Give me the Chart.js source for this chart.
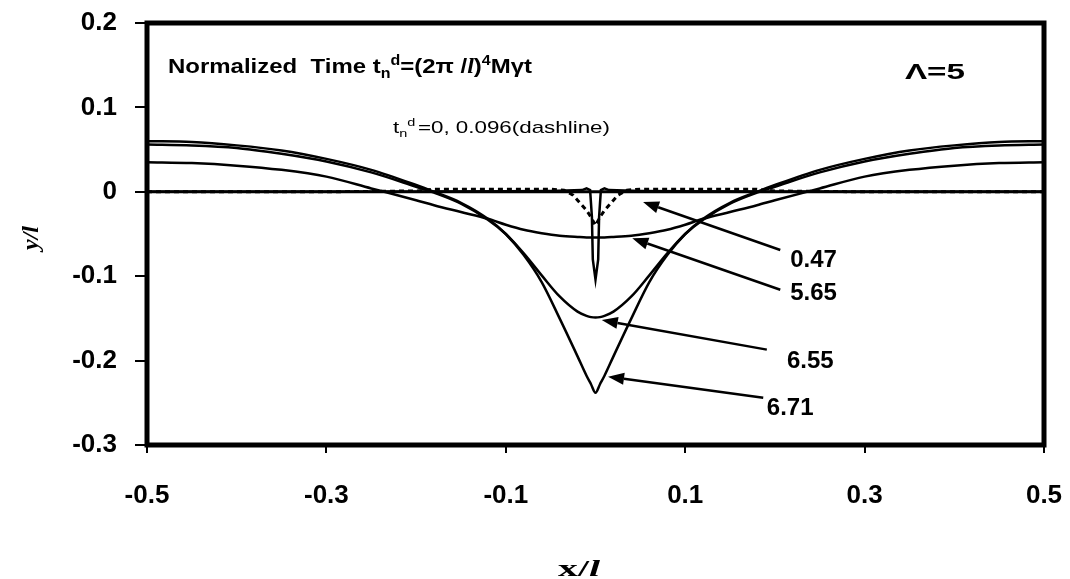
<!DOCTYPE html>
<html>
<head>
<meta charset="utf-8">
<script src="https://cdn.jsdelivr.net/npm/chart.js@4.4.0/dist/chart.umd.min.js"></script>
<style>
    html, body { margin: 0; padding: 0; background: #fff; }
</style>
</head>
<body>
<canvas id="profileChart" width="1070" height="579"></canvas>
<script>
// profile data (x/l, y/l)
const xBroad = [-0.5, -0.45, -0.4, -0.35, -0.3, -0.25, -0.2, -0.18, -0.15, -0.12, -0.1, -0.08, -0.06, -0.04, -0.02, -0.01,
    -0.005, 0, 0.005,
    0.01, 0.02, 0.04, 0.06, 0.08, 0.1, 0.12, 0.15, 0.18, 0.2, 0.25, 0.3, 0.35, 0.4, 0.45, 0.5];
const y565 = [0.035, 0.034, 0.031, 0.026, 0.018, 0.004, -0.010, -0.016, -0.024, -0.032, -0.039, -0.045, -0.049, -0.052, -0.0535, -0.054,
    -0.054, -0.054, -0.054,
    -0.054, -0.0535, -0.052, -0.049, -0.045, -0.039, -0.032, -0.024, -0.016, -0.010, 0.004, 0.018, 0.026, 0.031, 0.034, 0.035];
const y655 = [0.056, 0.055, 0.052, 0.045, 0.036, 0.023, 0.006, -0.001, -0.014, -0.033, -0.050, -0.073, -0.099, -0.124, -0.142, -0.147,
    -0.1485, -0.149, -0.1485,
    -0.147, -0.142, -0.124, -0.099, -0.073, -0.050, -0.033, -0.014, -0.001, 0.006, 0.023, 0.036, 0.045, 0.052, 0.055, 0.056];
const y671 = [0.060, 0.059, 0.055, 0.049, 0.039, 0.026, 0.008, 0.000, -0.013, -0.032, -0.050, -0.075, -0.107, -0.150, -0.195, -0.218,
    -0.228, -0.238, -0.228,
    -0.218, -0.195, -0.150, -0.107, -0.075, -0.050, -0.032, -0.013, 0.000, 0.008, 0.026, 0.039, 0.049, 0.055, 0.059, 0.060];

const xDash = [-0.5, -0.3, -0.2, -0.18, -0.15, -0.1, -0.05, -0.035, -0.025, -0.02, -0.01, -0.005, 0,
    0.005, 0.01, 0.02, 0.025, 0.035, 0.05, 0.1, 0.15, 0.18, 0.2, 0.3, 0.5];
const yDash = [0, 0, 0.001, 0.003, 0.003, 0.003, 0.003, 0.002, -0.004, -0.010, -0.022, -0.030, -0.040,
    -0.030, -0.022, -0.010, -0.004, 0.002, 0.003, 0.003, 0.003, 0.003, 0.001, 0, 0];

const xSpike = [-0.5, -0.2, -0.05, -0.015, -0.01, -0.006, -0.004, -0.003, 0, 0.003, 0.004, 0.006, 0.01, 0.015, 0.05, 0.2, 0.5];
const ySpike = [0, 0, 0.001, 0.002, 0.004, 0.002, -0.03, -0.08, -0.104, -0.08, -0.03, 0.002, 0.004, 0.002, 0.001, 0, 0];

const xFlat = [-0.5, 0.5];
const yFlat = [0, 0];

const xTickVals = [-0.5, -0.3, -0.1, 0.1, 0.3, 0.5];
const yTickVals = [-0.3, -0.2, -0.1, 0, 0.1, 0.2];

// arrow annotations, in data units
const arrowLabels = ['0.47', '5.65', '6.55', '6.71'];
const arrowTail = [[0.206, -0.069], [0.206, -0.116], [0.191, -0.187], [0.187, -0.244]];
const arrowTip = [[0.053, -0.012], [0.041, -0.055], [0.007, -0.152], [0.014, -0.219]];
const labelPos = [[0.217, -0.089], [0.217, -0.128], [0.2135, -0.209], [0.191, -0.264]];

function toPoints(xs, ys) {
    return xs.map((x, i) => ({ x: x, y: ys[i] }));
}

function lineSet(label, xs, ys, extra) {
    return Object.assign({
        label: label,
        data: toPoints(xs, ys),
        borderColor: '#000',
        borderWidth: 2.5,
        pointRadius: 0,
        fill: false,
        tension: 0
    }, extra || {});
}

// draws runs of text one after another, squeezed/stretched to a given width
function drawRich(ctx, x, y, parts, width) {
    let total = 0;
    parts.forEach(p => {
        ctx.font = p.font;
        total += ctx.measureText(p.t).width + (p.sp || 0);
    });
    const k = width ? width / total : 1;
    ctx.save();
    ctx.translate(x, y);
    ctx.scale(k, 1);
    let cx = 0;
    parts.forEach(p => {
        ctx.font = p.font;
        ctx.fillText(p.t, cx, p.dy || 0);
        cx += ctx.measureText(p.t).width + (p.sp || 0);
    });
    ctx.restore();
}

const overlayPlugin = {
    id: 'overlay',
    afterDatasetsDraw(chart) {
        const ctx = chart.ctx;
        const sx = chart.scales.x, sy = chart.scales.y;
        const a = chart.chartArea;
        ctx.save();

        // heavy frame
        ctx.strokeStyle = '#000';
        ctx.lineWidth = 5;
        ctx.strokeRect(a.left, a.top, a.right - a.left, a.bottom - a.top);

        ctx.fillStyle = '#000';
        ctx.textAlign = 'left';
        ctx.textBaseline = 'alphabetic';

        // heading texts
        const B = 'bold 21px "Liberation Sans", Arial, sans-serif';
        const Bs = 'bold 14px "Liberation Sans", Arial, sans-serif';
        drawRich(ctx, sx.getPixelForValue(-0.4766), sy.getPixelForValue(0.1408), [
            { t: 'Normalized  Time t', font: B },
            { t: 'n', font: Bs, dy: 5 },
            { t: 'd', font: Bs, dy: -8 },
            { t: '=(2\u03c0 /', font: B },
            { t: 'l', font: 'bold italic 21px "Liberation Serif", serif' },
            { t: ')', font: B },
            { t: '4', font: Bs, dy: -8 },
            { t: 'M\u03b3t', font: B }
        ], 364);
        drawRich(ctx, sx.getPixelForValue(0.345), sy.getPixelForValue(0.1336), [
            { t: '\u039b=5', font: 'bold 22px "Liberation Sans", Arial, sans-serif' }
        ], 60);
        const R = '17px "Liberation Sans", Arial, sans-serif';
        const Rs = '11px "Liberation Sans", Arial, sans-serif';
        drawRich(ctx, sx.getPixelForValue(-0.2258), sy.getPixelForValue(0.0697), [
            { t: 't', font: R },
            { t: 'n', font: Rs, dy: 4 },
            { t: 'd', font: Rs, dy: -7, sp: 2 },
            { t: '=0, 0.096(dashline)', font: R }
        ], 217);

        // arrows and their labels
        ctx.lineWidth = 2.5;
        arrowLabels.forEach((lab, i) => {
            const x0 = sx.getPixelForValue(arrowTail[i][0]), y0 = sy.getPixelForValue(arrowTail[i][1]);
            const x1 = sx.getPixelForValue(arrowTip[i][0]), y1 = sy.getPixelForValue(arrowTip[i][1]);
            const ang = Math.atan2(y1 - y0, x1 - x0);
            const len = 16, hw = 6;
            const bx = x1 - len * Math.cos(ang), by = y1 - len * Math.sin(ang);
            ctx.beginPath();
            ctx.moveTo(x0, y0);
            ctx.lineTo(bx, by);
            ctx.stroke();
            ctx.beginPath();
            ctx.moveTo(x1, y1);
            ctx.lineTo(bx + hw * Math.sin(ang), by - hw * Math.cos(ang));
            ctx.lineTo(bx - hw * Math.sin(ang), by + hw * Math.cos(ang));
            ctx.closePath();
            ctx.fill();

            ctx.font = 'bold 24px "Liberation Sans", Arial, sans-serif';
            ctx.fillText(lab, sx.getPixelForValue(labelPos[i][0]), sy.getPixelForValue(labelPos[i][1]));
        });

        // axis titles
        ctx.textAlign = 'center';
        ctx.save();
        ctx.translate(30, 238);
        ctx.rotate(-Math.PI / 2);
        ctx.font = 'bold italic 24px "Liberation Serif", serif';
        ctx.fillText('y/l', 0, 8);
        ctx.restore();

        ctx.textAlign = 'left';
        drawRich(ctx, 558, 576, [
            { t: 'x/', font: 'bold 24px "Liberation Serif", serif' },
            { t: 'l', font: 'bold italic 24px "Liberation Serif", serif' }
        ], 42);
        ctx.restore();
    }
};

const tickFont = { family: '"Liberation Sans", Arial, sans-serif', size: 26, weight: 'bold' };

const ctx = document.getElementById('profileChart').getContext('2d');
const chart = new Chart(ctx, {
    type: 'line',
    data: {
        datasets: [
            lineSet('0', xFlat, yFlat, { borderWidth: 3 }),
            lineSet('0.096', xDash, yDash, { borderDash: [5, 4], borderWidth: 3 }),
            lineSet('0.47', xSpike, ySpike),
            lineSet('5.65', xBroad, y565, { cubicInterpolationMode: 'monotone' }),
            lineSet('6.55', xBroad, y655, { cubicInterpolationMode: 'monotone' }),
            lineSet('6.71', xBroad, y671, { cubicInterpolationMode: 'monotone' })
        ]
    },
    options: {
        responsive: false,
        animation: false,
        layout: { padding: { left: 0, right: 26, top: 23, bottom: 0 } },
        plugins: {
            legend: { display: false },
            tooltip: { enabled: false }
        },
        scales: {
            x: {
                type: 'linear',
                min: -0.5,
                max: 0.5,
                afterBuildTicks: s => { s.ticks = xTickVals.map(v => ({ value: v })); },
                afterFit: s => { s.height = 134; s.paddingLeft = 0; s.paddingRight = 0; },
                border: { display: false },
                grid: { drawOnChartArea: false, drawTicks: true, tickLength: 8, color: '#000', lineWidth: 2 },
                ticks: {
                    color: '#000',
                    font: tickFont,
                    padding: 27,
                    maxRotation: 0,
                    callback: v => (Math.round(v * 10) / 10).toString()
                }
            },
            y: {
                type: 'linear',
                min: -0.3,
                max: 0.2,
                afterBuildTicks: s => { s.ticks = yTickVals.map(v => ({ value: v })); },
                afterFit: s => { s.width = 147; s.paddingTop = 0; s.paddingBottom = 0; },
                border: { display: false },
                grid: { drawOnChartArea: false, drawTicks: true, tickLength: 12, color: '#000', lineWidth: 2 },
                ticks: {
                    color: '#000',
                    font: tickFont,
                    padding: 18,
                    callback: v => (Math.round(v * 10) / 10).toString()
                }
            }
        }
    },
    plugins: [overlayPlugin]
});
</script>
</body>
</html>
